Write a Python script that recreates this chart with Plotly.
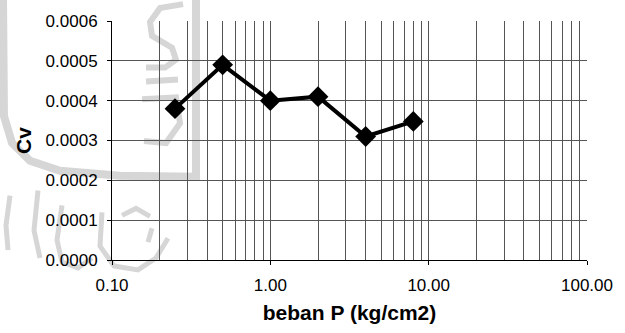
import plotly.graph_objects as go

# Consolidation coefficient vs. load
beban = [0.25, 0.5, 1.0, 2.0, 4.0, 8.0]
cv = [0.00038, 0.00049, 0.00040, 0.00041, 0.00031, 0.000348]

x_ticks = [0.1, 1, 10, 100]
x_ticktext = ["0.10", "1.00", "10.00", "100.00"]
y_ticks = [0.0, 0.0001, 0.0002, 0.0003, 0.0004, 0.0005, 0.0006]
y_ticktext = ["0.0000", "0.0001", "0.0002", "0.0003", "0.0004", "0.0005", "0.0006"]

x_grid = [m * d for d in (0.1, 1, 10) for m in range(1, 10)][1:]
y_grid = [0.0001, 0.0002, 0.0003, 0.0004, 0.0005]

W, H = 625, 333
L, R, T, B = 112, 38, 19, 73
PW, PH = W - L - R, H - T - B


def px(x, y):
    """Pixel position to paper coordinates."""
    return (x - L) / PW, (H - B - y) / PH


def path(points):
    parts = []
    for i, (x, y) in enumerate(points):
        u, v = px(x, y)
        parts.append(("M" if i == 0 else "L") + f"{u:.4f},{v:.4f}")
    return " ".join(parts)


wm = "#d6d6d6"
watermark = [
    # outer U band
    ([(3, -5), (4, 115), (12, 142), (30, 160), (60, 170), (120, 175), (196, 176), (196, -5)], 8),
    # emblem
    ([(183, 2), (160, 6), (150, 20), (152, 34), (172, 46), (176, 58), (165, 66), (146, 66)], 6),
    ([(146, 80), (178, 78)], 6),
    ([(142, 98), (176, 96), (180, 122), (166, 142), (144, 140)], 6),
    # script strokes below
    ([(10, 195), (6, 225), (8, 250)], 5),
    ([(38, 190), (34, 230), (40, 258)], 5),
    ([(62, 205), (57, 240), (62, 262), (78, 268), (92, 258)], 5),
    ([(102, 212), (100, 246), (114, 266), (138, 270), (156, 258), (168, 238)], 5),
    ([(122, 215), (136, 208), (150, 216)], 5),
    ([(148, 242), (152, 228)], 5),
]

shapes = []
for pts, w in watermark:
    shapes.append(dict(
        type="path", xref="paper", yref="paper", layer="below",
        path=path(pts), line=dict(color=wm, width=w),
    ))

fig = go.Figure()
fig.add_trace(go.Scatter(
    x=beban, y=cv, mode="lines+markers",
    line=dict(color="black", width=4),
    marker=dict(symbol="diamond", size=16, color="black"),
    showlegend=False,
))

font = dict(family="Liberation Sans, Arial, sans-serif", color="black")

fig.update_layout(
    width=W, height=H,
    margin=dict(l=L, r=R, t=T, b=B, pad=0),
    paper_bgcolor="white", plot_bgcolor="rgba(0,0,0,0)",
    font=dict(**font, size=17),
    shapes=shapes,
    xaxis=dict(
        type="log", range=[-1, 2],
        tickvals=x_ticks, ticktext=x_ticktext,
        ticks="outside", ticklen=4, tickcolor="black",
        ticklabelstandoff=6,
        showgrid=False, zeroline=False,
        showline=True, linecolor="black", linewidth=1,
        tickfont=dict(**font, size=17),
        minor=dict(tickvals=x_grid, showgrid=True, gridcolor="#555", gridwidth=1, ticks=""),
        title=dict(text="<b>beban P (kg/cm2)</b>", font=dict(**font, size=21), standoff=10),
    ),
    yaxis=dict(
        range=[0, 0.0006],
        tickvals=y_ticks, ticktext=y_ticktext,
        ticks="outside", ticklen=4, tickcolor="black",
        ticklabelstandoff=6,
        showgrid=False, zeroline=False,
        showline=True, linecolor="black", linewidth=1,
        tickfont=dict(**font, size=17),
        minor=dict(tickvals=y_grid, showgrid=True, gridcolor="#555", gridwidth=1, ticks=""),
        title=dict(text="<b>Cv</b>", font=dict(**font, size=21), standoff=8),
    ),
)

fig.write_html("out.html")
